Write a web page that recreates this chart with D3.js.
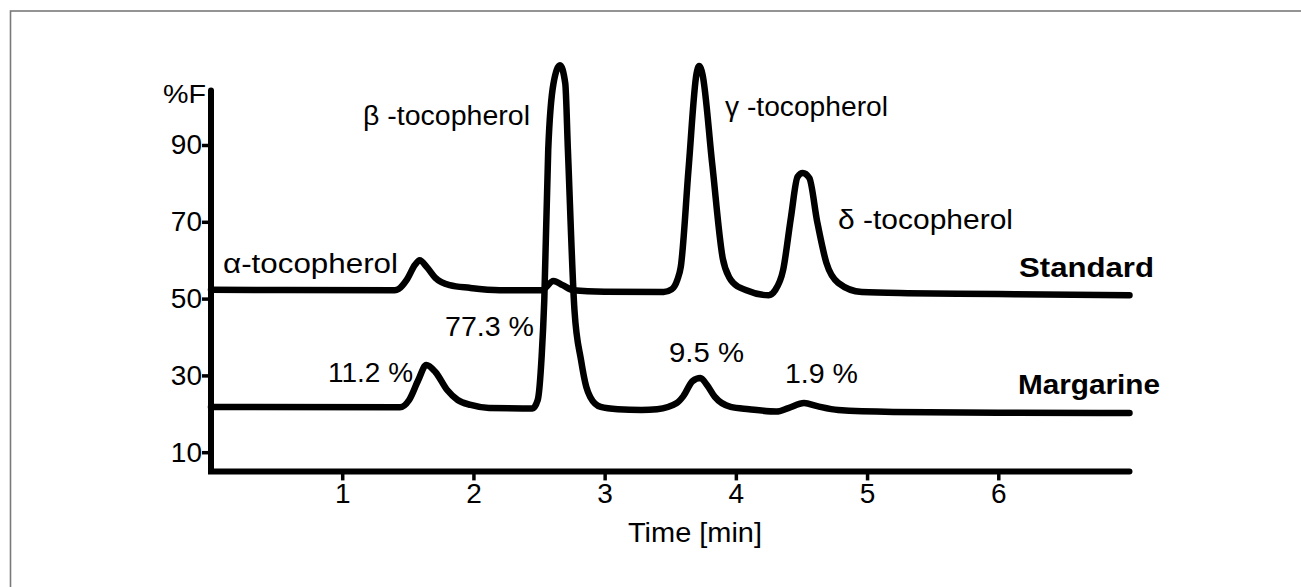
<!DOCTYPE html>
<html>
<head>
<meta charset="utf-8">
<script src="https://cdn.jsdelivr.net/npm/d3@7"></script>
<style>
  html, body { margin: 0; padding: 0; background: #fff; }
  svg { display: block; }
  text { font-family: "Liberation Sans", Arial, Helvetica, sans-serif; fill: #000; }
</style>
</head>
<body>
<div id="chart"></div>
<script>
// time [min] and %F
const standardTime = [0, 1.40, 1.43, 1.49, 1.555, 1.59, 1.645, 1.71, 1.82, 1.97, 2.2, 2.52, 2.61, 2.68, 2.76, 3.0,
  3.45, 3.51, 3.555, 3.58, 3.64, 3.70, 3.72, 3.745, 3.82, 3.90, 3.95, 3.98, 4.08, 4.25,
  4.30, 4.36, 4.42, 4.47, 4.51, 4.56, 4.62, 4.69, 4.78, 4.96, 5.31, 6.0, 7.0];
const standardValue = [52.3, 52.2, 52.5, 54.8, 58.8, 60.0, 58.2, 55.4, 53.5, 52.8, 52.2, 52.2, 54.6, 53.5, 52.2, 51.8,
  51.7, 52.4, 55.0, 58.2, 84.0, 108.5, 110.6, 108.5, 85.0, 60.5, 55.5, 54.1, 52.2, 50.9,
  52.2, 57.4, 71.2, 81.7, 82.7, 81.4, 70.0, 59.3, 54.1, 51.7, 51.4, 51.2, 50.9];

const margarineTime = [0, 1.44, 1.51, 1.58, 1.64, 1.71, 1.80, 1.88, 1.98, 2.12, 2.45,
  2.49, 2.52, 2.54, 2.57, 2.61, 2.66, 2.70, 2.72, 2.77, 2.82, 2.86, 2.89, 2.97, 3.1, 3.28,
  3.40, 3.55, 3.60, 3.67, 3.73, 3.78, 3.84, 3.96, 4.1, 4.31, 4.40, 4.52, 4.62, 4.78, 5.2, 6.0, 7.0];
const margarineValue = [21.8, 21.7, 23.6, 28.8, 32.7, 30.9, 26.2, 23.6, 22.3, 21.5, 21.4,
  23.6, 35.0, 49.6, 88.7, 106.0, 110.8, 106.0, 88.7, 47.0, 34.0, 27.0, 24.4, 21.8, 21.2, 21.0,
  21.2, 22.8, 24.6, 28.5, 29.3, 27.5, 24.4, 21.8, 21.2, 20.6, 21.5, 22.8, 22.0, 21.0, 20.5, 20.3, 20.2];

const xTicks = [1, 2, 3, 4, 5, 6];
const yTicks = [10, 30, 50, 70, 90];
const peakNames = ["α-tocopherol", "β -tocopherol", "γ -tocopherol", "δ -tocopherol"];
const peakShares = ["11.2 %", "77.3 %", "9.5 %", "1.9 %"];
const traceNames = ["Standard", "Margarine"];

const width = 1301, height = 587;

const svg = d3.select('#chart')
  .append('svg')
  .attr('width', width)
  .attr('height', height);

// grey frame, open to the right and bottom of the window
svg.append('rect')
  .attr('x', 10.5).attr('y', 11)
  .attr('width', 1400).attr('height', 700)
  .attr('fill', 'none')
  .attr('stroke', '#7a7a7a')
  .attr('stroke-width', 1.6);

const x = d3.scaleLinear().domain([0, 7]).range([211, 1129.5]);
const y = d3.scaleLinear().domain([5, 105]).range([471.4, 87.4]);

// axis lines
svg.append('path')
  .attr('d', d3.line()([[x(0), y(104.2)], [x(0), y(5)], [x(7), y(5)]]))
  .attr('fill', 'none')
  .attr('stroke', '#000')
  .attr('stroke-width', 6)
  .attr('stroke-linejoin', 'miter')
  .attr('stroke-linecap', 'round');

const yAxis = svg.append('g')
  .attr('transform', `translate(${x(0)},0)`)
  .call(d3.axisLeft(y).tickValues(yTicks).tickSize(9).tickPadding(0).tickFormat(d3.format('d')));
const xAxis = svg.append('g')
  .attr('transform', `translate(0,${y(5)})`)
  .call(d3.axisBottom(x).tickValues(xTicks).tickSize(9).tickPadding(3).tickFormat(d3.format('d')));

[yAxis, xAxis].forEach(a => {
  a.select('.domain').remove();
  a.selectAll('.tick line').attr('stroke', '#000').attr('stroke-width', 3.5);
  a.selectAll('.tick text').style('font-size', '28px').attr('fill', '#000');
});

// traces
const line = d3.line()
  .x(d => x(d[0]))
  .y(d => y(d[1]))
  .curve(d3.curveMonotoneX);

const traces = [
  d3.zip(standardTime, standardValue),
  d3.zip(margarineTime, margarineValue)
];

svg.selectAll('path.trace')
  .data(traces)
  .join('path')
  .attr('class', 'trace')
  .attr('d', line)
  .attr('fill', 'none')
  .attr('stroke', '#000')
  .attr('stroke-width', 6.5)
  .attr('stroke-linejoin', 'round')
  .attr('stroke-linecap', 'round');

// labels: left edge, baseline, width
const label = (txt, px, py, len, size, bold) => {
  svg.append('text')
    .attr('x', px).attr('y', py)
    .attr('textLength', len)
    .attr('lengthAdjust', 'spacingAndGlyphs')
    .style('font-size', size + 'px')
    .style('font-weight', bold ? 'bold' : 'normal')
    .text(txt);
};

const peakNamePos = [[223, 273, 175], [363, 125, 167], [725, 116, 163], [838, 229, 175]];
const sharePos = [[328, 382, 85], [445, 336, 89], [669, 362, 75], [785, 383, 73]];
const tracePos = [[1019, 277, 135], [1018, 394, 142]];

peakNames.forEach((t, i) => label(t, ...peakNamePos[i], 27, false));
peakShares.forEach((t, i) => label(t, ...sharePos[i], 28, false));
traceNames.forEach((t, i) => label(t, ...tracePos[i], 28, true));

label('%F', 163, 103, 43, 26, false);
label('Time [min]', 628, 542, 134, 28, false);
</script>
</body>
</html>
